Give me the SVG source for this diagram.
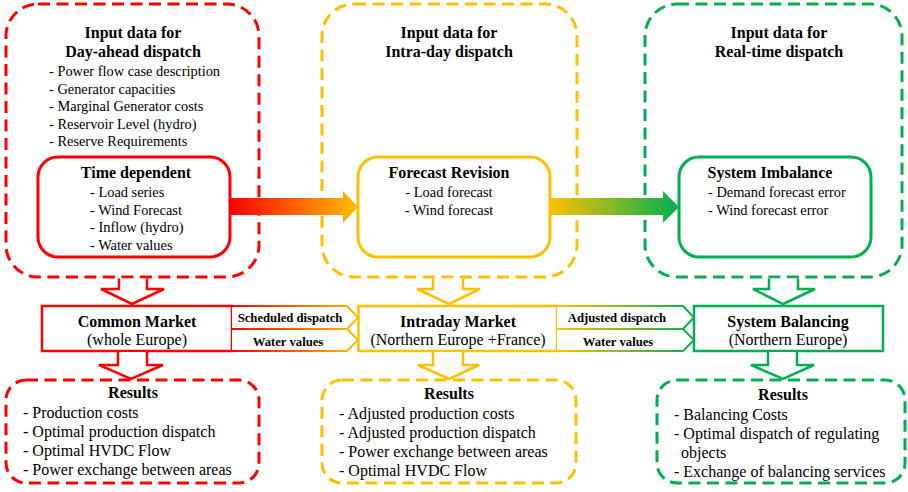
<svg xmlns="http://www.w3.org/2000/svg" width="908" height="492" viewBox="0 0 908 492">
<defs>
<linearGradient id="gRY" x1="230" y1="0" x2="358" y2="0" gradientUnits="userSpaceOnUse"><stop offset="0" stop-color="#FF0000"/><stop offset="1" stop-color="#FFC000"/></linearGradient>
<linearGradient id="gYG" x1="550" y1="0" x2="679" y2="0" gradientUnits="userSpaceOnUse"><stop offset="0" stop-color="#FFC000"/><stop offset="1" stop-color="#00B050"/></linearGradient>
<linearGradient id="gRY2" x1="232" y1="0" x2="358" y2="0" gradientUnits="userSpaceOnUse"><stop offset="0" stop-color="#FF0000"/><stop offset="1" stop-color="#FFC000"/></linearGradient>
<linearGradient id="gYG2" x1="557" y1="0" x2="694" y2="0" gradientUnits="userSpaceOnUse"><stop offset="0" stop-color="#FFC000"/><stop offset="1" stop-color="#00B050"/></linearGradient>
<style>
.dash{fill:none;stroke-width:3;stroke-dasharray:12 6.5}
.solid{fill:#fff;stroke-width:3}
.mk{fill:#fff;stroke-width:2.5}
.dn{fill:#fff;stroke-width:2.5;stroke-linejoin:miter}
.r{stroke:#FF0000}.y{stroke:#FFC000}.g{stroke:#00B050}
text{font-family:"Liberation Serif","Times New Roman",serif;fill:#000}
.t{font-size:16px;font-weight:bold;text-anchor:middle}
.i{font-size:14.4px}
.ic{font-size:14.4px;text-anchor:middle}
.m{font-size:16px;text-anchor:middle}
.res{font-size:16px}
.lbl{font-size:12.7px;font-weight:bold;text-anchor:middle}
</style>
</defs>

<g id="input-dayahead">
<rect class="dash r" x="6" y="4" width="253" height="273" rx="32"/>
<text class="t" x="133" y="38">Input data for</text>
<text class="t" x="133" y="57">Day-ahead dispatch</text>
<text class="i" x="49" y="76">- Power flow case description</text>
<text class="i" x="49" y="93.5">- Generator capacities</text>
<text class="i" x="49" y="111">- Marginal Generator costs</text>
<text class="i" x="49" y="128.5">- Reservoir Level (hydro)</text>
<text class="i" x="49" y="146">- Reserve Requirements</text>
</g>
<g id="time-dependent">
<rect class="solid r" x="38" y="157" width="192" height="100" rx="20"/>
<text class="t" x="136" y="178">Time dependent</text>
<text class="i" x="90" y="197">- Load series</text>
<text class="i" x="90" y="214.5">- Wind Forecast</text>
<text class="i" x="90" y="232">- Inflow (hydro)</text>
<text class="i" x="90" y="249.5">- Water values</text>
</g>

<g id="input-intraday">
<rect class="dash y" x="322" y="4" width="255" height="273" rx="32"/>
<text class="t" x="449" y="38">Input data for</text>
<text class="t" x="449" y="57">Intra-day dispatch</text>
</g>
<g id="forecast-revision">
<rect class="solid y" x="358" y="157" width="192" height="100" rx="20"/>
<text class="t" x="449" y="178">Forecast Revision</text>
<text class="ic" x="449" y="197">- Load forecast</text>
<text class="ic" x="449" y="214.5">- Wind forecast</text>
</g>

<g id="input-realtime">
<rect class="dash g" x="645" y="4" width="257" height="273" rx="32"/>
<text class="t" x="779" y="38">Input data for</text>
<text class="t" x="779" y="57">Real-time dispatch</text>
</g>
<g id="system-imbalance">
<rect class="solid g" x="679" y="157" width="192" height="100" rx="20"/>
<text class="t" x="770" y="178">System Imbalance</text>
<text class="i" x="708" y="197">- Demand forecast error</text>
<text class="i" x="708" y="214.5">- Wind forecast error</text>
</g>

<g id="common-market">
<rect class="mk r" x="42" y="306" width="190" height="45"/>
<text class="t" x="137" y="327">Common Market</text>
<text class="m" x="137" y="345">(whole Europe)</text>
</g>
<g id="intraday-market">
<rect class="mk y" x="358.5" y="306" width="198.5" height="45"/>
<text class="t" x="458" y="327">Intraday Market</text>
<text class="m" x="458" y="345">(Northern Europe +France)</text>
</g>
<g id="system-balancing">
<rect class="mk g" x="694" y="306" width="189" height="45"/>
<text class="t" x="788" y="327">System Balancing</text>
<text class="m" x="788" y="345">(Northern Europe)</text>
</g>

<g id="results-dayahead">
<rect class="dash r" x="6" y="380" width="253" height="103" rx="20"/>
<text class="t" x="133" y="398">Results</text>
<text class="res" x="23" y="418">- Production costs</text>
<text class="res" x="23" y="437">- Optimal production dispatch</text>
<text class="res" x="23" y="456">- Optimal HVDC Flow</text>
<text class="res" x="23" y="475">- Power exchange between areas</text>
</g>
<g id="results-intraday">
<rect class="dash y" x="322" y="380" width="254" height="103" rx="20"/>
<text class="t" x="449" y="399">Results</text>
<text class="res" x="339" y="419">- Adjusted production costs</text>
<text class="res" x="339" y="438">- Adjusted production dispatch</text>
<text class="res" x="339" y="457">- Power exchange between areas</text>
<text class="res" x="339" y="476">- Optimal HVDC Flow</text>
</g>
<g id="results-realtime">
<rect class="dash g" x="657" y="380" width="248" height="103" rx="20"/>
<text class="t" x="783" y="400">Results</text>
<text class="res" x="674" y="420">- Balancing Costs</text>
<text class="res" x="674" y="439">- Optimal dispatch of regulating</text>
<text class="res" x="681" y="458">objects</text>
<text class="res" x="674" y="477">- Exchange of balancing services</text>
</g>

<g id="connectors">
<polygon fill="url(#gRY)" points="230,198 343,198 343,191 358,207 343,223 343,215 230,215"/>
<polygon fill="url(#gYG)" points="550,198 663,198 663,191 679,207 663,223 663,215 550,215"/>

<polyline fill="#fff" stroke="url(#gRY2)" stroke-width="2" points="232,306 347,306 358,317.5 347,329 232,329"/>
<polyline fill="#fff" stroke="url(#gRY2)" stroke-width="2" points="232,329 347,329 358,340 347,351 232,351"/>
<text class="lbl" x="290" y="322">Scheduled dispatch</text>
<text class="lbl" x="288" y="346">Water values</text>

<polyline fill="#fff" stroke="url(#gYG2)" stroke-width="2" points="557,306 683,306 694,317.5 683,329 557,329"/>
<polyline fill="#fff" stroke="url(#gYG2)" stroke-width="2" points="557,329 683,329 694,340 683,351 557,351"/>
<text class="lbl" x="617" y="322">Adjusted dispatch</text>
<text class="lbl" x="618" y="346">Water values</text>

<polyline class="dn r" points="119,278.5 119,289 101,289 132,304 164,289 147,289 147,278.5"/>
<polyline class="dn r" points="118,352 118,365 99,365 131,379 163,365 147,365 147,352"/>
<polyline class="dn y" points="433,278.5 433,289 417,289 449,304 480,289 463,289 463,278.5"/>
<polyline class="dn y" points="433,352 433,365 418,365 449,379 479,365 463,365 463,352"/>
<polyline class="dn g" points="769,278.5 769,289 753,289 783,304 815,289 798,289 798,278.5"/>
<polyline class="dn g" points="768,352 768,365 751,365 783,379 814,365 797,365 797,352"/>
</g>
</svg>
